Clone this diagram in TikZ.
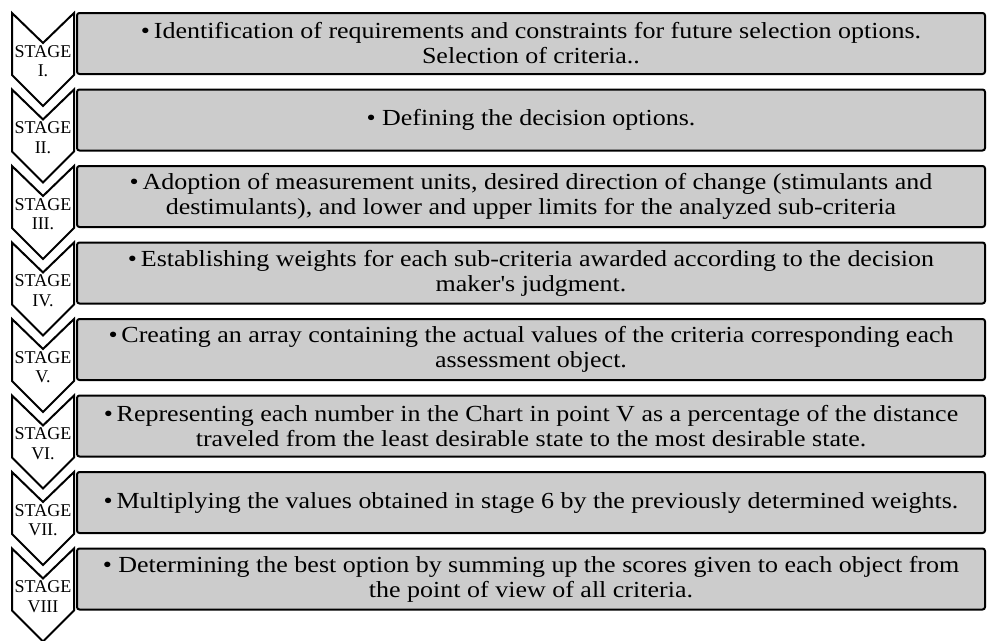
\documentclass[tikz,border=0pt]{standalone}
\usepackage{fontspec}
\setmainfont{Liberation Serif}
\newfontfamily\widefont[FakeStretch=1.13]{Liberation Serif}
\definecolor{boxgray}{HTML}{CCCCCC}
\newcommand\stagerow[4]{%
  \draw[stagebox] (12,#2) -- ++(31,30) -- ++(31,-30) -- ++(0,62) -- ++(-31,31) -- ++(-31,-31) -- cycle;
  \node[stagelabel] (s#1) at (43,#2+48) {#3};
  \node[textbox] (t#1) at (531,#2+30.5) {#4};
}
\begin{document}
\begin{tikzpicture}[x=1pt,y=-1pt,
  stagebox/.style={draw=black, line width=2pt, fill=white, line join=miter},
  stagelabel/.style={align=center, inner sep=0pt, font=\fontsize{18}{19.5}\selectfont},
  textbox/.style={draw=black, line width=2pt, fill=boxgray, rounded corners=2.5pt,
    minimum width=908pt, minimum height=61pt, inner sep=0pt, align=center,
    font=\widefont\fontsize{23}{25}\selectfont}]
\useasboundingbox (0,0) rectangle (987,640);
\stagerow{1}{13}{STAGE\\I.}{\textbullet\,Identification of requirements and constraints for future selection options.\\Selection of criteria..}
\stagerow{2}{89.5}{STAGE\\II.}{\textbullet{} Defining the decision options.}
\stagerow{3}{166}{STAGE\\III.}{\textbullet\,Adoption of measurement units, desired direction of change (stimulants and\\destimulants), and lower and upper limits for the analyzed sub-criteria}
\stagerow{4}{242.5}{STAGE\\IV.}{\textbullet\,Establishing weights for each sub-criteria awarded according to the decision\\maker's judgment.}
\stagerow{5}{319}{STAGE\\V.}{\textbullet\,Creating an array containing the actual values of the criteria corresponding each\\assessment object.}
\stagerow{6}{395.5}{STAGE\\VI.}{\textbullet\,Representing each number in the Chart in point V as a percentage of the distance\\traveled from the least desirable state to the most desirable state.}
\stagerow{7}{472}{STAGE\\VII.}{\textbullet\,Multiplying the values obtained in stage 6 by the previously determined weights.}
\stagerow{8}{548.5}{STAGE\\VIII}{\textbullet{} Determining the best option by summing up the scores given to each object from\\the point of view of all criteria.}
\end{tikzpicture}
\end{document}
